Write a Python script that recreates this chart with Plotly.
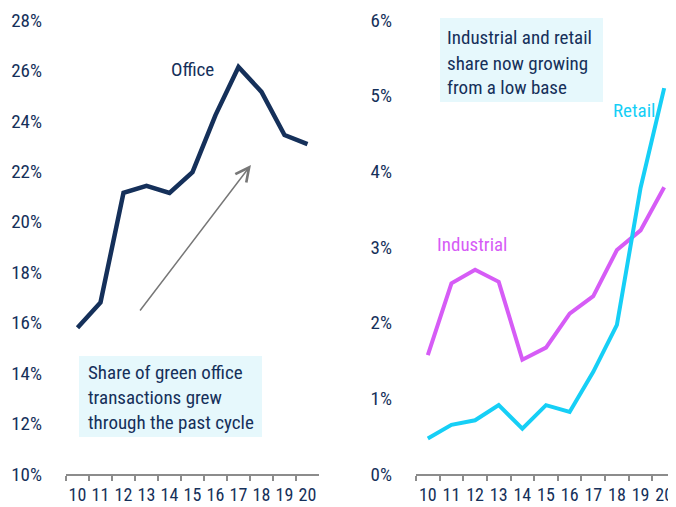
import plotly.graph_objects as go

years = ["10", "11", "12", "13", "14", "15", "16", "17", "18", "19", "20"]
office = [15.8, 16.8, 21.15, 21.42, 21.14, 21.97, 24.23, 26.14, 25.15, 23.44, 23.08]
industrial = [1.57, 2.52, 2.70, 2.54, 1.51, 1.67, 2.12, 2.35, 2.96, 3.22, 3.79]
retail = [0.47, 0.65, 0.71, 0.91, 0.60, 0.91, 0.82, 1.35, 1.97, 3.78, 5.10]

left_ticks = [10, 12, 14, 16, 18, 20, 22, 24, 26, 28]
right_ticks = [0, 1, 2, 3, 4, 5, 6]

left_note = ["Share of green office", "transactions grew", "through the past cycle"]
right_note = ["Industrial and retail", "share now growing", "from a low base"]

NAVY = "#15305a"
MAGENTA = "#d65cf6"
CYAN = "#16cff6"
BOXBG = "#e6f8fc"
FONT = "Roboto Condensed, Roboto, sans-serif"

# page has an 8px body margin: work in page pixels, convert to figure fractions
W, H, OFF = 668, 499, 8


def px(x):
    return (x - OFF) / W


def py(y):
    return 1 - (y - OFF) / H


fig = go.Figure()
fig.add_trace(go.Scatter(x=years, y=office, mode="lines", line=dict(color=NAVY, width=4.5),
                         xaxis="x", yaxis="y", showlegend=False))
fig.add_trace(go.Scatter(x=years, y=industrial, mode="lines", line=dict(color=MAGENTA, width=4),
                         xaxis="x2", yaxis="y2", showlegend=False))
fig.add_trace(go.Scatter(x=years, y=retail, mode="lines", line=dict(color=CYAN, width=4),
                         xaxis="x2", yaxis="y2", showlegend=False))

ydom = [py(474), py(20)]
xcommon = dict(type="category", showgrid=False, zeroline=False, showline=True,
               linecolor="#8c8c8c", linewidth=2, ticks="outside", tickson="boundaries",
               ticklen=5, tickwidth=2, tickcolor="#8c8c8c", tickangle=0,
               tickmode="linear", tick0=0, dtick=1,
               ticklabelstandoff=3,
               tickfont=dict(family=FONT, size=18, color=NAVY), automargin=False,
               range=[-0.5, 10.5], fixedrange=True)
ycommon = dict(showgrid=False, zeroline=False, showline=False, ticks="",
               tickfont=dict(family=FONT, size=19, color=NAVY), automargin=False,
               ticklabelstandoff=23, domain=ydom, fixedrange=True)

fig.update_layout(
    width=W, height=H,
    margin=dict(l=0, r=0, t=0, b=0),
    paper_bgcolor="white", plot_bgcolor="white",
    xaxis=dict(domain=[px(66), px(319)], anchor="y", **xcommon),
    xaxis2=dict(domain=[px(416), 1.0], anchor="y2", **xcommon),
    yaxis=dict(anchor="x", range=[10, 28], tickvals=left_ticks,
               ticktext=[f"{v}%" for v in left_ticks], **ycommon),
    yaxis2=dict(anchor="x2", range=[0, 6], tickvals=right_ticks,
                ticktext=[f"{v}%" for v in right_ticks], **ycommon),
)

# Arrow
fig.add_annotation(x=7.54, y=22.25, ax=2.67, ay=16.42, xref="x", yref="y", axref="x", ayref="y",
                   showarrow=True, arrowhead=5, arrowsize=1.8, arrowwidth=1.5,
                   arrowcolor="#777777", text="")

# Series labels
fig.add_annotation(x=5.0, y=26.02, xref="x", yref="y", text="Office", showarrow=False,
                   font=dict(family=FONT, size=19, color=NAVY))
fig.add_annotation(x=1.89, y=3.03, xref="x2", yref="y2", text="Industrial", showarrow=False,
                   font=dict(family=FONT, size=19, color=MAGENTA))
fig.add_annotation(x=8.72, y=4.81, xref="x2", yref="y2", text="Retail", showarrow=False,
                   font=dict(family=FONT, size=19, color=CYAN))

# Note boxes
fig.add_shape(type="rect", xref="paper", yref="paper", x0=px(79), x1=px(262),
              y0=py(437), y1=py(356), fillcolor=BOXBG, line=dict(width=0), layer="below")
fig.add_shape(type="rect", xref="paper", yref="paper", x0=px(440), x1=px(603),
              y0=py(102), y1=py(18), fillcolor=BOXBG, line=dict(width=0), layer="below")

for i, line in enumerate(left_note):
    fig.add_annotation(x=px(86), y=py(372 + 25 * i), xref="paper", yref="paper",
                       xanchor="left", yanchor="middle", showarrow=False, text=line,
                       font=dict(family=FONT, size=19, color=NAVY))
for i, line in enumerate(right_note):
    fig.add_annotation(x=px(445), y=py(38 + 25 * i), xref="paper", yref="paper",
                       xanchor="left", yanchor="middle", showarrow=False, text=line,
                       font=dict(family=FONT, size=19, color=NAVY))

fig.write_html("out.html")
